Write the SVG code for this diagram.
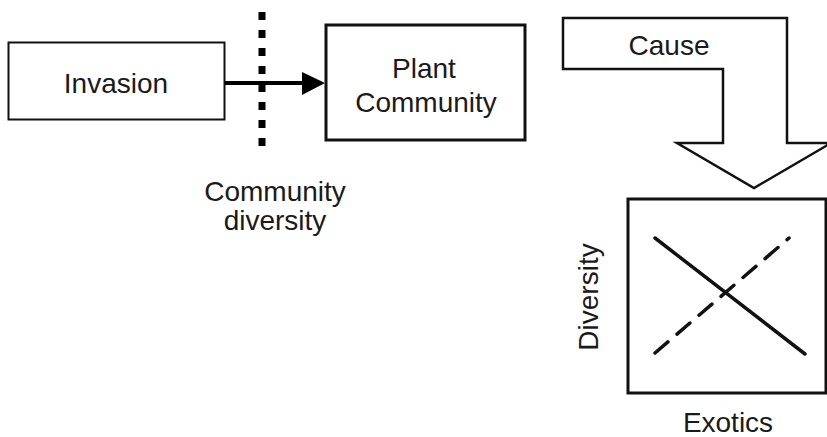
<svg xmlns="http://www.w3.org/2000/svg" width="827" height="437" viewBox="0 0 827 437">
<style>
text{font-family:"Liberation Sans",Arial,sans-serif;font-size:28px;fill:#1a1a1a}
.box{fill:#fff;stroke:#111}
</style>
<rect width="827" height="437" fill="#fff"/>
<g id="invasion">
<rect class="box" x="8.5" y="42.5" width="216" height="77" stroke-width="2"/>
<text x="116" y="93" text-anchor="middle">Invasion</text>
</g>
<g id="plant-community">
<rect class="box" x="326" y="25" width="199" height="115" stroke-width="3"/>
<text x="424" y="78" text-anchor="middle">Plant</text>
<text x="426" y="112" text-anchor="middle">Community</text>
</g>
<g id="community-diversity">
<line x1="262" y1="12" x2="262" y2="146" stroke="#000" stroke-width="7" stroke-dasharray="8 10"/>
<text x="275" y="201" text-anchor="middle">Community</text>
<text x="275" y="230" text-anchor="middle">diversity</text>
</g>
<g id="cause">
<polygon points="563,18 787,18 787,143 831,143 754,188 677,143 723,143 723,69 563,69" fill="#fff" stroke="#111" stroke-width="2.5" stroke-linejoin="miter"/>
<text x="669" y="55" text-anchor="middle">Cause</text>
</g>
<g id="plot">
<rect class="box" x="628" y="199" width="198" height="194" stroke-width="3"/>
<line x1="655" y1="238" x2="805" y2="354" stroke="#111" stroke-width="3.5" stroke-linecap="round"/>
<line x1="655" y1="353" x2="789" y2="238" stroke="#111" stroke-width="3.5" stroke-dasharray="17 12" stroke-linecap="round"/>
<text transform="translate(598,297) rotate(-90)" text-anchor="middle">Diversity</text>
<text x="728" y="432" text-anchor="middle">Exotics</text>
</g>
<g id="connectors">
<line x1="225" y1="83" x2="304" y2="83" stroke="#000" stroke-width="4"/>
<polygon points="302,72 325,83 302,95" fill="#000"/>
</g>
</svg>
